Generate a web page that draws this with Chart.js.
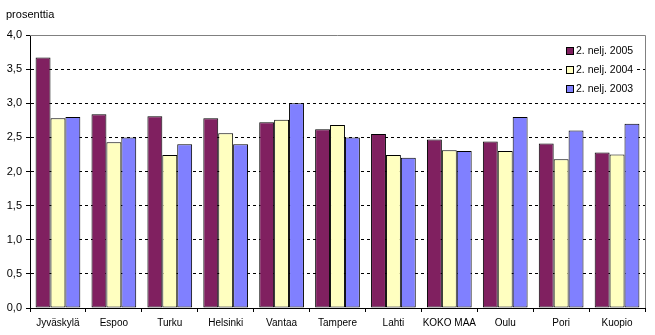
<!DOCTYPE html>
<html lang="fi">
<head>
    <meta charset="UTF-8">
    <title>Kaavio</title>
    <script src="https://cdn.jsdelivr.net/npm/chart.js"></script>
    <style>
        html, body { margin: 0; padding: 0; background: #fff; }
        #wrap { width: 655px; height: 335px; position: relative; }
    </style>
</head>
<body>
<div id="wrap"><canvas id="chart" width="655" height="335"></canvas></div>
<script>
    // data
    const cities = ["Jyväskylä", "Espoo", "Turku", "Helsinki", "Vantaa", "Tampere", "Lahti", "KOKO MAA", "Oulu", "Pori", "Kuopio"];
    const seriesLabels = ["2. nelj. 2005", "2. nelj. 2004", "2. nelj. 2003"];
    const q2005 = [3.67, 2.84, 2.81, 2.78, 2.72, 2.62, 2.55, 2.47, 2.44, 2.41, 2.28];
    const q2004 = [2.78, 2.43, 2.24, 2.56, 2.76, 2.68, 2.24, 2.31, 2.30, 2.18, 2.25];
    const q2003 = [2.8, 2.5, 2.4, 2.4, 3.0, 2.5, 2.2, 2.3, 2.8, 2.6, 2.7];
    const colors = ["#802060", "#ffffc0", "#8080ff"];
    const yTicks = [0, 0.5, 1, 1.5, 2, 2.5, 3, 3.5, 4];

    const font = "Liberation Sans, Arial, sans-serif";
    Chart.defaults.font.family = font;
    Chart.defaults.font.size = 11;
    Chart.defaults.color = "#000";

    // frame, unit label and legend drawn on top
    const extras = {
        id: "extras",
        afterDraw(chart) {
            const ctx = chart.ctx;
            const a = chart.chartArea;
            ctx.save();
            ctx.strokeStyle = "#808080";
            ctx.lineWidth = 1;
            ctx.beginPath();
            ctx.moveTo(a.left, a.top + 0.5);
            ctx.lineTo(a.right + 0.5, a.top + 0.5);
            ctx.lineTo(a.right + 0.5, a.bottom);
            ctx.stroke();

            ctx.fillStyle = "#000";
            ctx.font = "11px " + font;
            ctx.textBaseline = "middle";
            ctx.fillText("prosenttia", 6, 15);

            // legend
            ctx.font = "10.5px " + font;
            const x0 = 566, y0 = 51, step = 19;
            chart.data.datasets.forEach((ds, i) => {
                const y = y0 + i * step;
                const w = ctx.measureText(ds.label).width;
                ctx.fillStyle = "#fff";
                ctx.fillRect(x0 - 2, y - 7, w + 14, 14);
                ctx.fillStyle = ds.backgroundColor;
                ctx.fillRect(x0 + 0.5, y - 3.5, 7, 7);
                ctx.strokeStyle = "#000";
                ctx.strokeRect(x0 + 0.5, y - 3.5, 7, 7);
                ctx.fillStyle = "#000";
                ctx.fillText(ds.label, x0 + 10, y);
            });
            ctx.restore();
        }
    };

    new Chart(document.getElementById("chart"), {
        type: "bar",
        data: {
            labels: cities,
            datasets: [
                { label: seriesLabels[0], data: q2005, backgroundColor: colors[0] },
                { label: seriesLabels[1], data: q2004, backgroundColor: colors[1] },
                { label: seriesLabels[2], data: q2003, backgroundColor: colors[2] }
            ].map(d => Object.assign(d, {
                borderColor: "#000",
                borderWidth: 1,
                borderSkipped: false,
                categoryPercentage: 0.8,
                barPercentage: 1.0
            }))
        },
        options: {
            responsive: false,
            animation: false,
            devicePixelRatio: 1,
            layout: { padding: { top: 35, right: 10, left: 0, bottom: 0 } },
            plugins: { legend: { display: false }, tooltip: { enabled: false } },
            scales: {
                x: {
                    afterFit(s) { s.height = 27; },
                    grid: {
                        offset: true,
                        drawOnChartArea: false,
                        drawTicks: true,
                        tickLength: 4,
                        tickColor: "#000"
                    },
                    border: { color: "#000", width: 1 },
                    ticks: { padding: 5, maxRotation: 0, autoSkip: false, font: { size: 10 } }
                },
                y: {
                    min: 0,
                    max: 4,
                    afterFit(s) { s.width = 30; },
                    afterBuildTicks(s) { s.ticks = yTicks.map(v => ({ value: v })); },
                    grid: {
                        color: c => (c.tick && c.tick.value > 0 && c.tick.value < 4) ? "#000" : "rgba(0,0,0,0)",
                        tickColor: "#000",
                        tickLength: 4,
                        tickBorderDash: []
                    },
                    border: { color: "#000", width: 1, dash: [3, 3] },
                    ticks: {
                        autoSkip: false,
                        padding: 4,
                        callback: v => v.toFixed(1).replace(".", ",")
                    }
                }
            }
        },
        plugins: [extras]
    });
</script>
</body>
</html>
